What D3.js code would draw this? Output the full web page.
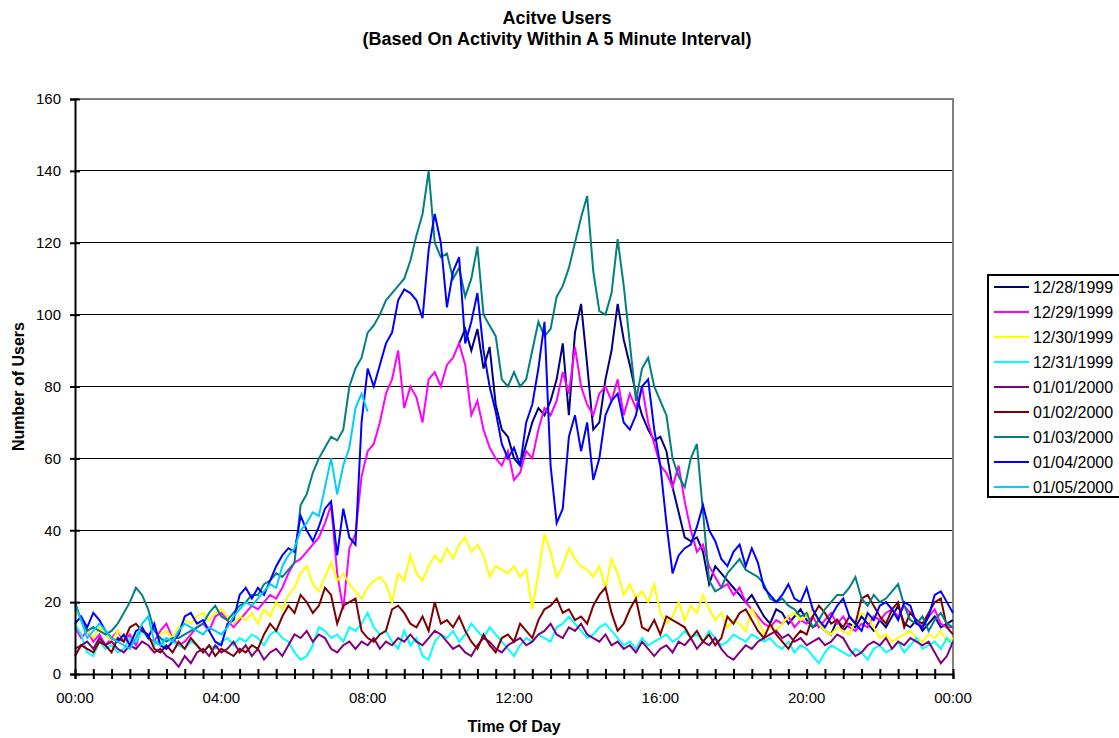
<!DOCTYPE html>
<html>
<head>
<meta charset="utf-8">
<script src="https://cdn.jsdelivr.net/npm/d3@7/dist/d3.min.js"></script>
<style>
    body { margin: 0; background: #fff; }
    svg { font-family: "Liberation Sans", Arial, sans-serif; }
</style>
</head>
<body>
<div id="chart"></div>
<script>
// --- Data: active users, one reading every 10 minutes (00:00 .. 24:00) ---
const minutesPerPoint = 10;

const seriesNames = ["12/28/1999", "12/29/1999", "12/30/1999", "12/31/1999",
                     "01/01/2000", "01/02/2000", "01/03/2000", "01/04/2000", "01/05/2000"];
const seriesColors = ["#000080", "#FF00FF", "#FFFF00", "#00FFFF",
                      "#800080", "#800000", "#008080", "#0000FF", "#00CCFF"];

// 12/28 logging only starts at 10:30 (point 63)
const start1228 = 63;
const users1228 = [92,96,90,96,85,91,75,
    68,66,60,58,64,70,74,72,76,82, 92,72,95,103,86,68,70,82,90,103,
    93,86,78,72,68,65,66,62,52,45, 38,37,38,34,25,30,28,26,24,22,
    20,22,19,16,14,18,17,14,16,18, 15,13,14,12,11,15,12,14,13,16,
    14,12,15,13,16,19,14,13,15,12, 14,16,13,14,15];

const users1229 = [13,10,12,9,11,8,10,12,9,11, 8,13,10,9,12,14,10,8,9,11,
    13,14,12,16,17,15,13,15,17,19, 18,20,22,21,24,28,31,32,34,36,
    38,42,47,28,18,35,39,55,62,64, 70,78,82,90,74,80,77,70,82,84,
    80,86,88,92,86,72,76,68,63,60, 58,62,54,56,62,60,68,74,72,76,
    84,78,91,80,75,72,78,80,76,82, 72,78,74,80,70,64,58,56,52,58,
    48,40,34,36,30,27,24,25,22,24, 20,18,16,14,13,15,14,16,13,15,
    14,16,13,15,17,14,16,13,12,14, 13,16,15,17,18,16,19,17,15,13,
    16,18,14,13,13];

const users1230 = [18,16,12,10,13,11,9,12,10,9, 11,13,10,8,11,12,10,13,15,14,
    16,17,15,17,18,16,14,16,15,17, 14,18,16,20,18,22,24,28,30,25,
    23,27,31,26,28,25,23,21,24,26, 27,25,20,28,26,33,28,26,30,33,
    31,35,32,36,38,34,36,33,27,30, 29,28,30,27,29,18,28,39,34,27,
    30,35,32,30,29,27,30,24,32,28, 22,25,21,23,20,25,17,14,16,20,
    15,19,17,22,18,15,17,13,15,14, 12,18,15,11,13,12,14,16,17,15,
    16,18,14,12,11,13,12,11,15,17, 16,13,10,11,9,10,11,12,10,9,
    11,10,12,9,10];

const users1231 = [14,11,6,5,9,7,8,6,7,10, 9,12,10,8,10,7,9,8,7,9,
    8,6,8,7,9,10,8,10,9,11, 10,8,11,12,10,9,6,4,5,8,
    13,12,10,11,9,13,12,14,17,13, 11,12,9,7,12,8,10,5,4,9,
    11,10,12,9,11,14,12,10,13,11, 9,7,5,8,10,9,11,10,9,13,
    14,16,14,12,10,11,13,14,12,10, 8,9,7,10,8,9,10,11,9,10,
    12,10,11,9,12,10,8,9,11,10, 9,11,10,9,10,8,7,9,6,8,
    7,5,3,6,8,7,6,5,7,6, 4,7,8,6,7,9,6,8,10,7,
    8,9,7,10,8];

const users0101 = [7,8,9,7,10,8,9,7,6,8, 7,9,8,6,7,5,4,2,5,3,
    6,7,5,8,6,7,9,6,8,5, 7,4,6,7,5,8,11,10,12,9,
    11,10,7,6,8,9,7,9,8,10, 7,9,8,10,9,11,9,8,10,12,
    11,9,7,8,6,5,8,10,9,7, 6,8,9,10,8,9,11,12,14,11,
    10,13,12,14,11,10,9,11,8,9, 7,8,6,9,7,5,7,8,6,9,
    8,10,7,9,8,10,7,5,4,6, 8,7,9,10,11,12,10,11,9,10,
    8,9,10,8,9,11,10,7,5,6, 8,9,8,10,7,9,8,10,9,8,
    9,6,3,5,9];

const users0102 = [5,8,7,6,9,8,6,10,9,13, 14,12,11,7,6,8,6,9,7,10,
    8,6,8,5,7,6,5,7,6,8, 7,11,14,12,16,19,17,22,20,17,
    19,24,22,14,19,20,21,12,10,9, 11,12,18,19,17,14,13,16,12,20,
    14,15,13,16,12,9,7,11,8,6, 10,11,9,14,12,10,15,18,19,21,
    17,18,15,16,14,19,22,24,17,12, 14,18,21,13,12,15,11,16,15,14,
    13,10,12,9,11,8,10,16,14,17, 18,15,12,10,14,11,9,7,10,12,
    11,16,19,17,14,15,13,16,14,21, 22,19,16,14,18,20,13,17,15,14,
    17,20,21,13,11];

const users0103 = [20,15,12,13,12,11,12,14,17,20, 24,22,18,12,10,9,10,10,11,12,
    13,14,17,19,16,15,17,19,20,22, 22,25,26,28,27,29,31,47,50,56,
    60,63,66,65,68,80,85,88,95,97, 100,104,106,108,110,115,122,128,140,120,
    116,117,110,113,105,110,119,100,97,94, 82,80,84,80,82,90,98,94,96,105,
    108,113,120,127,133,112,101,100,106,121, 108,92,76,85,88,80,76,72,60,55,
    52,60,64,45,26,23,24,28,30,32, 29,28,27,25,21,20,21,19,18,16,
    17,13,15,18,20,22,22,24,27,21, 19,22,20,21,23,25,19,15,14,16,
    12,15,17,14,13];

const users0104 = [14,16,13,17,15,12,10,9,11,8, 12,13,10,14,8,7,9,11,16,17,
    14,15,12,9,8,14,15,22,24,21, 24,22,26,30,33,35,34,44,40,37,
    41,46,48,33,46,38,36,70,85,80, 86,92,95,104,107,106,104,99,118,128,
    120,102,112,116,92,98,106,90,80,73, 64,60,63,58,70,75,85,98,58,42,
    46,66,72,62,70,54,60,72,76,78, 70,68,72,80,82,68,58,42,28,33,
    35,36,41,47,40,37,32,30,34,36, 30,35,31,24,22,20,22,25,21,20,
    24,18,15,13,16,19,21,16,14,12, 17,15,19,20,18,15,20,19,14,13,
    16,22,23,20,17];

// 01/05 logging stops at 08:00
const users0105 = [19,15,10,12,14,12,10,9,8,7, 10,14,16,9,8,10,9,12,14,13,
    12,11,13,12,11,13,16,18,20,19, 21,23,25,24,30,33,35,40,42,45,
    44,52,60,50,58,63,74,78,73];

const seriesValues = [users1228, users1229, users1230, users1231,
                      users0101, users0102, users0103, users0104, users0105];
const seriesStarts = [start1228, 0, 0, 0, 0, 0, 0, 0, 0];

const yTicks = [0, 20, 40, 60, 80, 100, 120, 140, 160];
const xLabelHours = [0, 4, 8, 12, 16, 20, 24];
const xLabels = ["00:00", "04:00", "08:00", "12:00", "16:00", "20:00", "00:00"];

// --- Layout ---
const width = 1119, height = 738;
const margin = { top: 99, right: 166, bottom: 64, left: 75 };
const plotW = width - margin.left - margin.right;
const plotH = height - margin.top - margin.bottom;

const svg = d3.select("#chart").append("svg")
    .attr("width", width)
    .attr("height", height);

const g = svg.append("g")
    .attr("transform", `translate(${margin.left}, ${margin.top})`);

const x = d3.scaleLinear().domain([0, 24]).range([0, plotW]);
const y = d3.scaleLinear().domain([0, 160]).range([plotH, 0]);

// gridlines
g.append("g")
    .selectAll("line")
    .data(yTicks.filter(t => t > 0 && t < 160))
    .join("line")
    .attr("x1", 0).attr("x2", plotW)
    .attr("y1", d => y(d)).attr("y2", d => y(d))
    .attr("stroke", "#000").attr("stroke-width", 1)
    .attr("shape-rendering", "crispEdges");

// plot area border (gray top & right)
g.append("path")
    .attr("d", `M0,${y(160)}H${plotW}V${plotH}`)
    .attr("fill", "none")
    .attr("stroke", "#808080")
    .attr("stroke-width", 2);

// --- Series ---
const line = d3.line()
    .x(d => x(d.i * minutesPerPoint / 60))
    .y(d => y(d.v));

const series = seriesNames.map((name, k) => ({
    name,
    color: seriesColors[k],
    points: seriesValues[k].map((v, j) => ({ i: j + seriesStarts[k], v }))
}));

g.append("g")
    .selectAll("path")
    .data(series)
    .join("path")
    .attr("fill", "none")
    .attr("stroke", d => d.color)
    .attr("stroke-width", 2)
    .attr("d", d => line(d.points));

// --- Axes ---
const yAxis = g.append("g")
    .call(d3.axisLeft(y).tickValues(yTicks).tickSize(5).tickPadding(9));
yAxis.select(".domain").attr("stroke", "#000").attr("stroke-width", 2);
yAxis.selectAll(".tick line").attr("x1", 5).attr("x2", -5).attr("stroke-width", 2);
yAxis.selectAll("text")
    .attr("font-size", "15px")
    .attr("font-family", "Liberation Sans, Arial, sans-serif")
    .attr("fill", "#000");

const xTickHours = d3.range(0, 24.01, 0.5);
const xAxis = g.append("g")
    .attr("transform", `translate(0, ${plotH})`)
    .call(d3.axisBottom(x).tickValues(xTickHours).tickSize(5).tickFormat(""));
xAxis.select(".domain").attr("stroke", "#000").attr("stroke-width", 2);
xAxis.selectAll(".tick line").attr("y1", -5).attr("y2", 5).attr("stroke-width", 2);

g.append("g")
    .selectAll("text")
    .data(xLabelHours)
    .join("text")
    .attr("x", d => x(d))
    .attr("y", plotH + 29)
    .attr("text-anchor", "middle")
    .attr("font-size", "15px")
    .text((d, i) => xLabels[i]);

// --- Titles ---
const title = svg.append("text")
    .attr("x", 557)
    .attr("text-anchor", "middle")
    .attr("font-size", "18px")
    .attr("font-weight", "bold");
title.append("tspan").attr("x", 557).attr("y", 24).text("Acitve Users");
title.append("tspan").attr("x", 557).attr("y", 45).text("(Based On Activity Within A 5 Minute Interval)");

svg.append("text")
    .attr("x", margin.left + plotW / 2)
    .attr("y", height - 6)
    .attr("text-anchor", "middle")
    .attr("font-size", "16px")
    .attr("font-weight", "bold")
    .text("Time Of Day");

svg.append("text")
    .attr("transform", `translate(24, ${margin.top + plotH / 2}) rotate(-90)`)
    .attr("text-anchor", "middle")
    .attr("font-size", "16px")
    .attr("font-weight", "bold")
    .text("Number of Users");

// --- Legend ---
const legend = svg.append("g").attr("transform", "translate(988, 275)");
legend.append("rect")
    .attr("width", 150)
    .attr("height", 222)
    .attr("fill", "#fff")
    .attr("stroke", "#000")
    .attr("stroke-width", 2);

series.forEach((s, k) => {
    const row = legend.append("g").attr("transform", `translate(0, ${12 + k * 25})`);
    row.append("line")
        .attr("x1", 6).attr("x2", 41)
        .attr("stroke", s.color)
        .attr("stroke-width", 2);
    row.append("text")
        .attr("x", 45)
        .attr("y", 6)
        .attr("font-size", "16px")
        .text(s.name);
});
</script>
</body>
</html>
